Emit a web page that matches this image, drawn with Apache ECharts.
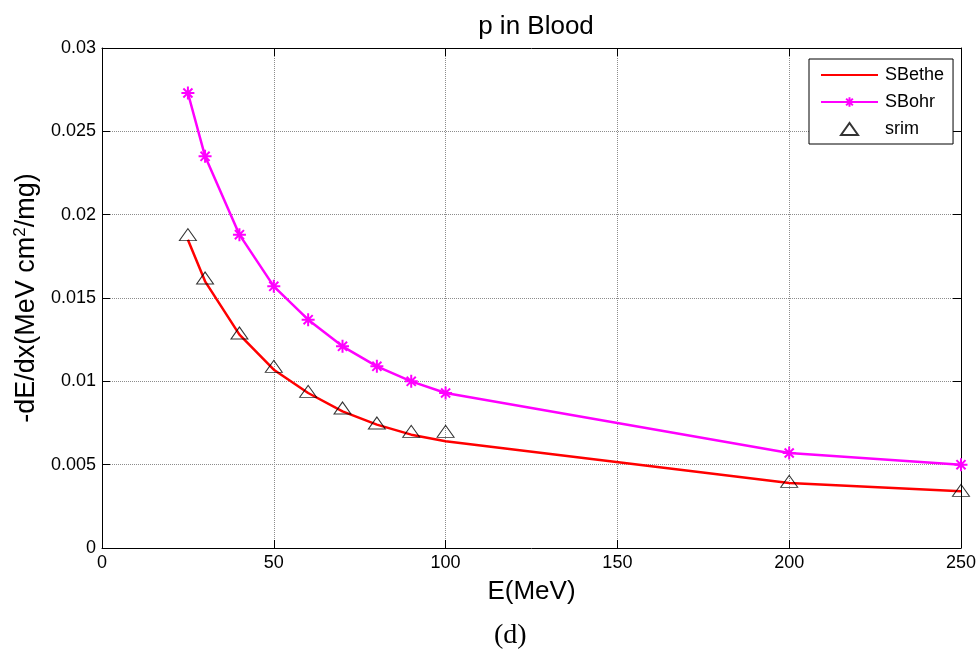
<!DOCTYPE html>
<html>
<head>
<meta charset="utf-8">
<script src="https://cdn.jsdelivr.net/npm/echarts@6/dist/echarts.min.js"></script>
<style>
html,body{margin:0;padding:0;background:#fff;}
#chart{width:979px;height:655px;}
</style>
</head>
<body>
<div id="chart"></div>
<script>
// Energies (MeV)
var energies = [25, 30, 40, 50, 60, 70, 80, 90, 100, 200, 250];
// Stopping power values (MeV cm^2/mg)
var sBethe = [0.0185, 0.0160, 0.0128, 0.0107, 0.0093, 0.0082, 0.0074, 0.0068, 0.0064, 0.0039, 0.0034];
var sBohr  = [0.0273, 0.0235, 0.0188, 0.0157, 0.0137, 0.0121, 0.0109, 0.0100, 0.0093, 0.0057, 0.0050];
var srim   = [0.0188, 0.0162, 0.0129, 0.0109, 0.0094, 0.0084, 0.0075, 0.0070, 0.0070, 0.0040, 0.00346];
var xTicks = [0, 50, 100, 150, 200, 250];
var yTicks = [0, 0.005, 0.01, 0.015, 0.02, 0.025, 0.03];

function pairs(xs, ys) { return xs.map(function (x, i) { return [x, ys[i]]; }); }

var FONT = '"Liberation Sans", Arial, sans-serif';
var asterisk = 'path://M5,0L5,10M0,5L10,5M1.5,1.5L8.5,8.5M1.5,8.5L8.5,1.5';
// legend icon: small triangle centred in the 57x12 legend icon box
var legendTriangle = 'path://M0,0M57,12M20,12L28.5,0L37,12Z';

var chart = echarts.init(document.getElementById('chart'), null, {renderer: 'canvas'});

var gridLine = {show: true, lineStyle: {color: '#8c8c8c', width: 1, type: [1, 1]}};

chart.setOption({
  animation: false,
  backgroundColor: '#ffffff',
  title: {
    text: 'p in Blood',
    left: 531, top: 9, textAlign: 'center',
    textStyle: {fontFamily: FONT, fontSize: 26, fontWeight: 'normal', color: '#000'}
  },
  grid: {left: 102, right: 18, top: 48, bottom: 107, containLabel: false},
  legend: {
    orient: 'vertical',
    left: 809, top: 59,
    padding: [7, 9, 6, 11],
    itemWidth: 57, itemHeight: 12, itemGap: 9,
    backgroundColor: '#ffffff',
    borderColor: '#000', borderWidth: 1, borderRadius: 0,
    textStyle: {fontFamily: FONT, fontSize: 18, color: '#000', padding: [0, 0, 0, 2]},
    data: [
      {name: 'SBethe', itemStyle: {opacity: 0}},
      {name: 'SBohr'},
      {name: 'srim', icon: legendTriangle}
    ]
  },
  xAxis: [{
    type: 'value', min: 0, max: 250, interval: 50,
    name: 'E(MeV)', nameLocation: 'middle', nameGap: 31,
    nameTextStyle: {fontFamily: FONT, fontSize: 26, color: '#000'},
    axisLine: {show: true, onZero: false, lineStyle: {color: '#000', width: 1}},
    axisTick: {show: true, inside: true, length: 8, lineStyle: {color: '#000'}},
    axisLabel: {fontFamily: FONT, fontSize: 18, color: '#000', margin: 6,
      formatter: function (v) { return xTicks.indexOf(v) >= 0 ? String(v) : ''; }},
    splitLine: gridLine
  }, {
    type: 'value', min: 0, max: 250, interval: 50, position: 'top',
    axisLine: {show: true, onZero: false, lineStyle: {color: '#000', width: 1}},
    axisTick: {show: true, inside: true, length: 8, lineStyle: {color: '#000'}},
    axisLabel: {show: false}, splitLine: {show: false}
  }],
  yAxis: [{
    type: 'value', min: 0, max: 0.03, interval: 0.005,
    name: '-dE/dx(MeV cm{sup|2}/mg)', nameLocation: 'middle', nameGap: 55,
    nameTextStyle: {fontFamily: FONT, fontSize: 27, color: '#000',
      rich: {sup: {fontFamily: FONT, fontSize: 17, color: '#000', verticalAlign: 'bottom', padding: [0, 0, 12, 0]}}},
    axisLine: {show: true, onZero: false, lineStyle: {color: '#000', width: 1}},
    axisTick: {show: true, inside: true, length: 8, lineStyle: {color: '#000'}},
    axisLabel: {fontFamily: FONT, fontSize: 18, color: '#000', margin: 6,
      formatter: function (v) {
        for (var i = 0; i < yTicks.length; i++) { if (Math.abs(yTicks[i] - v) < 1e-9) return String(yTicks[i]); }
        return '';
      }},
    splitLine: gridLine
  }, {
    type: 'value', min: 0, max: 0.03, interval: 0.005, position: 'right',
    axisLine: {show: true, onZero: false, lineStyle: {color: '#000', width: 1}},
    axisTick: {show: true, inside: true, length: 8, lineStyle: {color: '#000'}},
    axisLabel: {show: false}, splitLine: {show: false}
  }],
  series: [{
    name: 'SBethe', type: 'line',
    data: pairs(energies, sBethe),
    symbol: 'none',
    lineStyle: {color: '#ff0000', width: 2.5},
    itemStyle: {color: '#ff0000'},
    z: 2
  }, {
    name: 'SBohr', type: 'line',
    data: pairs(energies, sBohr),
    symbol: asterisk, symbolSize: 13, showSymbol: true,
    lineStyle: {color: '#ff00ff', width: 2.5},
    itemStyle: {color: '#ff00ff', borderColor: '#ff00ff', borderWidth: 2},
    z: 3
  }, {
    name: 'srim', type: 'scatter',
    data: pairs(energies, srim),
    symbol: 'triangle', symbolSize: [17, 12],
    itemStyle: {color: 'rgba(255,255,255,0)', borderColor: '#000', borderWidth: 1},
    z: 4
  }],
  graphic: [{
    type: 'text', left: 494, top: 622,
    style: {text: '(d)', fontFamily: '"Liberation Serif", "Times New Roman", serif', fontSize: 28, fill: '#000'}
  }]
});
</script>
</body>
</html>
